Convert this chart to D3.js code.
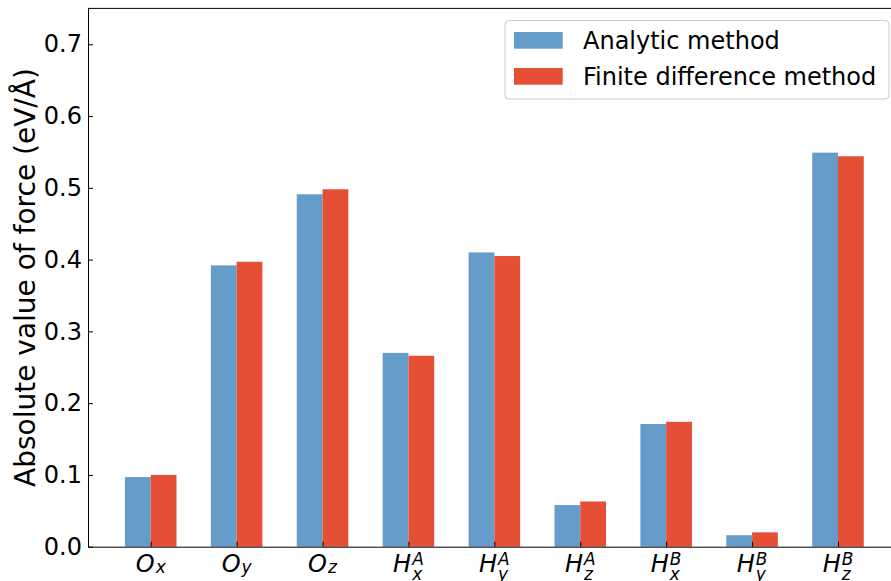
<!DOCTYPE html>
<html>
<head>
<meta charset="utf-8">
<script src="https://cdn.jsdelivr.net/npm/d3@7"></script>
<style>
  body { margin: 0; background: #fff; }
  svg { display: block; font-family: 'DejaVu Sans', sans-serif; }
</style>
</head>
<body>
<div></div>
<script>
// data
const categories = ['O_x', 'O_y', 'O_z', 'H_x^A', 'H_y^A', 'H_z^A', 'H_x^B', 'H_y^B', 'H_z^B'];
const analytic = [0.097, 0.392, 0.491, 0.270, 0.410, 0.058, 0.171, 0.016, 0.549];
const finiteDiff = [0.100, 0.397, 0.498, 0.266, 0.405, 0.063, 0.174, 0.020, 0.544];
const seriesNames = ['Analytic method', 'Finite difference method'];
const yTicks = [0, 0.1, 0.2, 0.3, 0.4, 0.5, 0.6, 0.7];

const colors = ['#659cca', '#e54f36'];
const width = 891;
const height = 581;
const barW = 0.3;

const svg = d3.select('div').append('svg').attr('width', width).attr('height', height);
svg.append('rect').attr('width', width).attr('height', height).attr('fill', '#fff');

const x = d3.scaleLinear().domain([-0.73, 8.73]).range([88, 900.7]);
const y = d3.scaleLinear().domain([0, 0.75]).range([546.7, 8.4]);

// bars
const series = [analytic, finiteDiff];
series.forEach((vals, s) => {
    svg.append('g').selectAll('rect').data(vals).enter().append('rect')
        .attr('x', (d, i) => x(i - barW + s * barW))
        .attr('width', (d, i) => x(i + barW) - x(i))
        .attr('y', d => y(d))
        .attr('height', d => y(0) - y(d))
        .attr('fill', colors[s]);
});

// axes, ticks pointing inward
const yAxis = d3.axisLeft(y).tickValues(yTicks).tickSizeInner(-5).tickSizeOuter(0)
    .tickPadding(6).tickFormat(d3.format('.1f'));
const gy = svg.append('g').attr('transform', 'translate(88,0)').call(yAxis);
gy.selectAll('text').attr('font-size', 24).attr('fill', '#000').attr('font-family', 'DejaVu Sans');
gy.selectAll('line, path').attr('stroke', '#000');

const xAxis = d3.axisBottom(x).tickValues(d3.range(categories.length)).tickSizeInner(-5)
    .tickSizeOuter(0).tickFormat('');
const gx = svg.append('g').attr('transform', 'translate(0,' + y(0) + ')').call(xAxis);
gx.selectAll('line, path').attr('stroke', '#000');

// top spine
svg.append('line').attr('x1', 88).attr('x2', x(8.73)).attr('y1', y(0.75)).attr('y2', y(0.75))
    .attr('stroke', '#000');

// x tick labels with sub/superscripts
const baseY = 571.5;
categories.forEach((c, i) => {
    const m = c.match(/^(\w)_(\w)(?:\^(\w))?$/);
    const g = svg.append('g');
    const base = g.append('text').text(m[1]).attr('font-size', 24).attr('font-style', 'italic')
        .attr('y', baseY);
    const bw = base.node().getComputedTextLength();
    const sub = g.append('text').text(m[2]).attr('font-size', 17).attr('font-style', 'italic')
        .attr('x', bw + 1).attr('y', baseY + (m[3] ? 8 : 1.5));
    let w = bw + 1 + sub.node().getComputedTextLength();
    if (m[3]) {
        const sup = g.append('text').text(m[3]).attr('font-size', 17).attr('font-style', 'italic')
            .attr('x', bw + 1).attr('y', baseY - 7);
        w = Math.max(w, bw + 1 + sup.node().getComputedTextLength());
    }
    g.attr('transform', 'translate(' + (x(i) - w / 2) + ',0)');
});

// y label
svg.append('text')
    .attr('transform', 'translate(35,' + (y(0) + y(0.75)) / 2 + ') rotate(-90)')
    .attr('text-anchor', 'middle')
    .attr('font-size', 28)
    .text('Absolute value of force (eV/Å)');

// legend
const leg = svg.append('g');
leg.append('rect').attr('x', 505).attr('y', 20.5).attr('width', 384).attr('height', 78.5)
    .attr('rx', 4).attr('fill', '#fff').attr('fill-opacity', 0.8).attr('stroke', '#ccc');
seriesNames.forEach((name, s) => {
    leg.append('rect').attr('x', 514).attr('y', 32 + s * 36).attr('width', 48.7).attr('height', 16.7)
        .attr('fill', colors[s]);
    leg.append('text').attr('x', 583).attr('y', 40.5 + s * 36).attr('dy', '0.35em')
        .attr('font-size', 24).text(name);
});
</script>
</body>
</html>
